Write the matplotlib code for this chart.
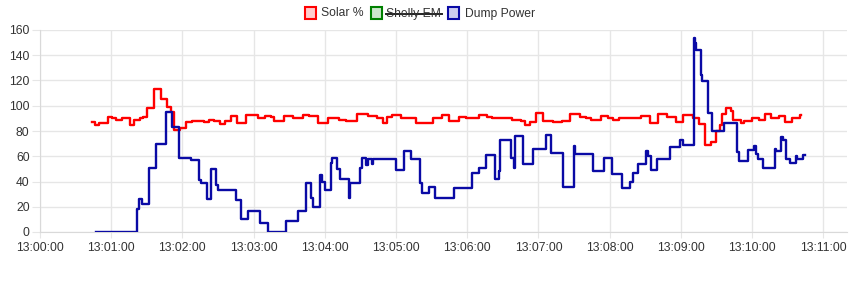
import numpy as np
import pandas as pd
import matplotlib
matplotlib.use("Agg")
import matplotlib.pyplot as plt
import matplotlib.dates as mdates
from matplotlib.patches import Rectangle
from matplotlib.lines import Line2D

# seconds after 13:00:00 and values (stepped series)
solar_t = [44, 46, 50, 57, 61, 64, 69, 76, 79, 84, 87, 90, 96, 102, 107, 110, 113, 118,
           123, 128, 138, 142, 147, 152, 156, 161, 166, 174, 184, 190, 195, 197, 206, 213,
           222, 227, 234, 243, 252, 258, 267, 276, 284, 289, 292, 297, 304, 317, 331, 339,
           345, 353, 359, 370, 377, 381, 387, 398, 405, 409, 413, 418, 424, 432, 440, 447,
           455, 460, 464, 473, 479, 483, 488, 506, 514, 521, 528, 536, 542, 550, 555, 560,
           565, 570, 573, 575, 578, 582, 584, 591, 593, 600, 606, 611, 616, 623, 628, 634,
           640, 641]
solar_v = [87, 85, 86, 91, 90, 89, 90, 84.5, 89, 90, 91, 98, 113.5, 105, 99, 95, 81, 82,
           87, 88, 87, 89, 88, 85.5, 88, 91.5, 86.5, 92.5, 90.5, 91.5, 91, 88, 91.5, 90.5,
           92.5, 91.5, 86.5, 90.5, 89, 88, 93.5, 91.5, 90, 86.5, 91, 93, 90.5, 86.5, 90, 92.5,
           88, 91, 90, 92.5, 91, 90, 90.5, 89, 88, 84.5, 87, 94.5, 88, 87, 88, 93.5,
           91, 90, 89, 91.5, 90, 89, 90.5, 91.5, 86.5, 93.5, 91, 87, 92.5, 90, 85.5, 69,
           71.5, 80, 85, 93.5, 98, 96, 89, 86.5, 88, 90.5, 89, 93.5, 90, 91.5, 87, 90.5,
           92.5, 92.5]

dump_t = [47, 82, 83, 86, 92, 98, 106, 111, 117, 127, 134, 136, 141, 144, 148, 150, 165,
          169, 175, 185, 192, 207, 217, 224, 228, 230, 236, 238, 240, 245, 246, 250, 253,
          260, 261, 270, 271, 275, 276, 280, 281, 300, 307, 313, 320, 322, 328, 333, 349,
          364, 370, 376, 383, 387, 388, 397, 399, 400, 407, 415, 426, 431, 441, 450, 451,
          466, 475, 482, 490, 497, 500, 504, 511, 512, 515, 520, 531, 539, 542, 551, 552,
          553, 557, 558, 563, 566, 576, 587, 589, 597, 602, 603, 605, 609, 619, 620, 624,
          626, 629, 632, 637, 638, 643, 645]
dump_v = [0, 18, 26.5, 22, 51, 70, 95, 83, 59, 57, 41.5, 39, 26.5, 50, 37.5, 33.5, 25.5,
          10.5, 16.5, 7, 0, 8.5, 17, 38.5, 27, 20, 45.5, 40, 33.5, 54.5, 59, 50, 42,
          27, 39, 50.5, 59, 53, 57.5, 54, 57.5, 49.5, 64.5, 58, 39, 31, 36, 27, 34.5,
          46.5, 50.5, 61, 42, 48.5, 72.5, 59, 50.5, 76, 54, 66, 76.5, 62.5, 36, 68, 62,
          48.5, 59, 46, 34.5, 40, 46.5, 54, 64, 60, 49.5, 58, 67, 73, 69, 154, 150,
          144.5, 124.5, 119.5, 94.5, 80, 86.5, 63, 56.5, 65, 68, 62, 57.5, 50.5, 66, 64.5, 75,
          72.5, 57.5, 54.5, 60, 58, 61, 61]

x_ticks_min = list(range(0, 12))
series_names = ["Solar %", "Shelly EM", "Dump Power"]
series_colors = ["#ff0000", "#008000", "#0a0aa5"]
series_fill = ["#ffcccc", "#cce6cc", "#cecef0"]

t0 = pd.Timestamp("2024-01-01 13:00:00")
solar_x = t0 + pd.to_timedelta(solar_t, unit="s")
dump_x = t0 + pd.to_timedelta(dump_t, unit="s")

W, H = 863, 287
plt.rcParams["font.family"] = ["Liberation Sans", "DejaVu Sans"]
fig = plt.figure(figsize=(W / 100, H / 100), dpi=100)
ax = fig.add_axes([40 / W, 55 / H, (847 - 40) / W, (232 - 30) / H])

grid_c = "#e6e6e6"
text_c = "#333333"
fs = 8.7
ax.plot(solar_x, solar_v, drawstyle="steps-post", color=series_colors[0], lw=1.7, zorder=3)
ax.plot(dump_x, dump_v, drawstyle="steps-post", color=series_colors[2], lw=1.7, zorder=3)

ax.set_ylim(0, 160)
ax.set_yticks(np.arange(0, 161, 20))
ax.set_xlim(t0, t0 + pd.Timedelta(seconds=680))
ax.set_xticks([t0 + pd.Timedelta(minutes=m) for m in x_ticks_min])
ax.xaxis.set_major_formatter(mdates.DateFormatter("%H:%M:%S"))

ax.grid(True, color=grid_c, lw=1)
ax.set_axisbelow(True)
for s in ["top", "right"]:
    ax.spines[s].set_visible(False)
for s in ["left", "bottom"]:
    ax.spines[s].set_color("#d9d9d9")
ax.tick_params(axis="y", length=6, color=grid_c, labelsize=fs, labelcolor=text_c, pad=1.5)
ax.tick_params(axis="x", length=4, color=grid_c, labelsize=fs, labelcolor=text_c, pad=3)

# legend drawn by hand, chart.js style
def fx(x):
    return x / W

def fy(y):
    return 1 - y / H

box_x = [305, 371, 448]
text_x = [321, 386, 465]
for i, name in enumerate(series_names):
    fig.add_artist(Rectangle((fx(box_x[i]), fy(19)), 11 / W, 12 / H, transform=fig.transFigure,
                             facecolor=series_fill[i], edgecolor=series_colors[i], lw=1.5))
    fig.text(fx(text_x[i]), fy(13.5), name, fontsize=fs, color=text_c, va="center", ha="left")

fig.add_artist(Line2D([fx(386), fx(442)], [fy(13.5), fy(13.5)], transform=fig.transFigure,
                      color="#222222", lw=1.4))

fig.savefig("out.png", dpi=100)
